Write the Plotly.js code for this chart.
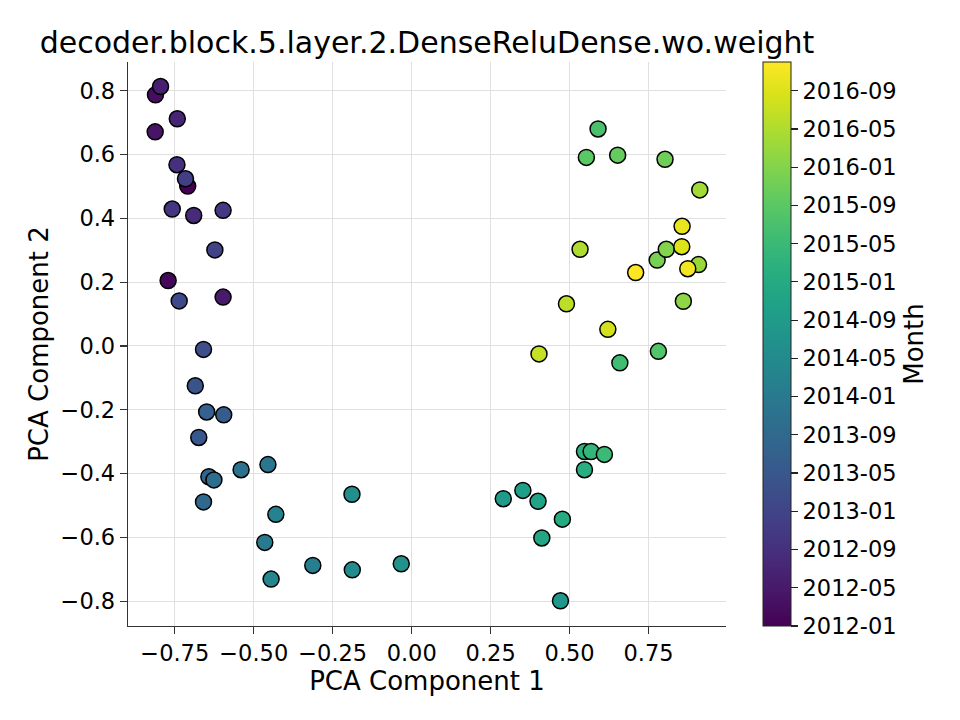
<!DOCTYPE html>
<html>
<head>
<meta charset="utf-8">
<script src="https://cdn.plot.ly/plotly-3.0.1.min.js"></script>
<style>html,body{margin:0;padding:0;background:#fff;}#chart{width:960px;height:720px;}</style>
</head>
<body>
<div id="chart"></div>
<script>
// Month of each point (YYYY-MM)
var months = [
  "2012-01","2012-02","2012-03","2012-04","2012-05","2012-06","2012-07","2012-08","2012-09","2012-10",
  "2012-11","2012-12","2013-01","2013-02","2013-03","2013-04","2013-05","2013-06","2013-07","2013-08",
  "2013-09","2013-10","2013-11","2013-12","2014-01","2014-02","2014-03","2014-04","2014-05","2014-06",
  "2014-07","2014-08","2014-09","2014-10","2014-11","2014-12","2015-01","2015-02","2015-03","2015-04",
  "2015-05","2015-06","2015-07","2015-08","2015-09","2015-10","2015-11","2015-12","2016-01","2016-02",
  "2016-03","2016-04","2016-05","2016-06","2016-07","2016-08","2016-09","2016-10","2016-11","2016-12"
];
var pc1 = [
  -0.709,-0.771,-0.811,-0.812,-0.597,-0.795,-0.742,-0.690,-0.743,-0.758,
  -0.597,-0.716,-0.623,-0.736,-0.659,-0.685,-0.674,-0.595,-0.649,-0.642,
  -0.659,-0.626,-0.540,-0.455,-0.465,-0.313,-0.430,-0.445,-0.188,-0.189,
  -0.033,0.471,0.290,0.352,0.400,0.412,0.477,0.547,0.547,0.568,
  0.610,0.659,0.590,0.781,0.553,0.652,0.802,0.777,0.806,0.860,
  0.908,0.912,0.533,0.490,0.403,0.621,0.855,0.856,0.874,0.709
];
var pc2 = [
  0.501,0.205,0.787,0.671,0.153,0.813,0.712,0.409,0.568,0.429,
  0.425,0.524,0.301,0.141,-0.011,-0.125,-0.287,-0.216,-0.207,-0.410,
  -0.489,-0.420,-0.388,-0.372,-0.616,-0.688,-0.528,-0.731,-0.702,-0.465,
  -0.683,-0.799,-0.479,-0.453,-0.487,-0.602,-0.543,-0.388,-0.331,-0.331,
  -0.340,-0.053,0.680,-0.017,0.591,0.598,0.585,0.269,0.303,0.140,
  0.255,0.489,0.303,0.132,-0.025,0.052,0.311,0.375,0.242,0.230
];
var cbTickLabels = ["2012-01","2012-05","2012-09","2013-01","2013-05","2013-09","2014-01",
  "2014-05","2014-09","2015-01","2015-05","2015-09","2016-01","2016-05","2016-09"];

function monthIndex(s){ var p = s.split("-"); return (parseInt(p[0],10)-2012)*12 + parseInt(p[1],10)-1; }
var mIdx = months.map(monthIndex);
var cbTickVals = cbTickLabels.map(monthIndex);

var font = "DejaVu Sans, sans-serif";
var tickSize = 22.5, labelSize = 26, titleSize = 30;
var trace = {
  type: "scatter", mode: "markers", x: pc1, y: pc2,
  marker: {
    color: mIdx, colorscale: "Viridis", cmin: 0, cmax: 59, size: 16,
    line: {color: "#000", width: 1.5},
    showscale: true,
    colorbar: {
      x: 1.062, xanchor: "left", xref: "paper", y: 0.5, yanchor: "middle", len: 1, lenmode: "fraction",
      thickness: 28, thicknessmode: "pixels", xpad: 0, ypad: 0,
      outlinewidth: 1, outlinecolor: "#222",
      tickmode: "array", tickvals: cbTickVals, ticktext: cbTickLabels,
      ticks: "outside", ticklen: 7, tickcolor: "#222", tickwidth: 1.2,
      tickfont: {family: font, size: tickSize, color: "#000"},
      title: {text: "Month", side: "right", font: {family: font, size: labelSize, color: "#000"}}
    }
  },
  hoverinfo: "x+y"
};
var axisCommon = {
  showline: true, linecolor: "#333", linewidth: 1.3, mirror: false,
  ticks: "outside", ticklen: 7, tickcolor: "#333", tickwidth: 1.2,
  showgrid: true, gridcolor: "#e0e0e0", gridwidth: 1, zeroline: false, automargin: false,
  tickfont: {family: font, size: tickSize, color: "#000"}
};
var layout = {
  width: 960, height: 720,
  margin: {l: 128, r: 234, t: 62, b: 94},
  paper_bgcolor: "#fff", plot_bgcolor: "#fff",
  font: {family: font, color: "#000"},
  showlegend: false,
  title: {text: "decoder.block.5.layer.2.DenseReluDense.wo.weight", x: 0.5, xref: "paper", xanchor: "center",
    y: 0.941, yref: "container", yanchor: "middle", font: {family: font, size: titleSize, color: "#000"}},
  xaxis: Object.assign({}, axisCommon, {range: [-0.898, 0.995], dtick: 0.25, tick0: 0, tickformat: ".2f",
    title: {text: "PCA Component 1", standoff: 6, font: {family: font, size: labelSize, color: "#000"}}}),
  yaxis: Object.assign({}, axisCommon, {range: [-0.878, 0.89], dtick: 0.2, tick0: 0, tickformat: ".1f",
    title: {text: "PCA Component 2", standoff: 4, font: {family: font, size: labelSize, color: "#000"}}})
};
Plotly.newPlot("chart", [trace], layout, {displayModeBar: false, staticPlot: true});
</script>
</body>
</html>
